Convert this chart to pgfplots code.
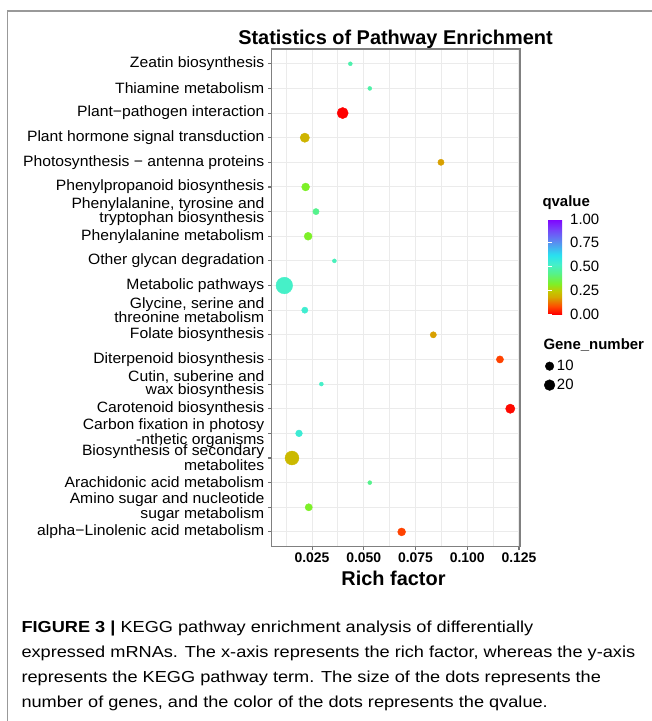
\documentclass[border=0pt]{standalone}
\usepackage{fontspec}
\setmainfont{Liberation Sans}
\newfontfamily\capfont[FakeStretch=1.14]{Liberation Sans}
\newfontfamily\lblfont[FakeStretch=1.05]{Liberation Sans}
\usepackage{pgfplots}
\pgfplotsset{compat=1.18}
\usepackage{pgfplotstable}
\pgfplotsset{dotlegend/.style={legend image code/.code={\draw[##1] plot coordinates {(0bp,0bp)};}}}

% y: category position (1 = bottom), rich: rich factor, n: gene number, q: qvalue
\pgfplotstableread{
y rich n q
20 0.0435 3 0.48
19 0.0529 3 0.47
18 0.0398 23 0.00
17 0.0215 14 0.20
16 0.0873 5 0.17
15 0.0219 9 0.32
14 0.0269 5 0.43
13 0.0231 9 0.32
12 0.0358 3 0.50
11 0.0116 65 0.52
10 0.0215 5 0.54
9 0.0836 5 0.17
8 0.1158 7 0.07
7 0.0295 3 0.52
6 0.1208 14 0.01
5 0.0187 6 0.55
4 0.0153 41 0.21
3 0.0529 3 0.43
2 0.0234 7 0.32
1 0.0683 9 0.07
}\pathdata

\begin{document}
\begin{tikzpicture}[x=1bp,y=1bp]
\useasboundingbox (0,0) rectangle (652,-721);
\coordinate (axpos) at (271.7,-546.7);
\draw[black!40, line width=1.6bp] (7.5,-721) -- (7.5,-11) -- (652,-11);
\node[anchor=base, font=\bfseries\fontsize{20}{20}\selectfont] at (395.5,-44.5) {Statistics of Pathway Enrichment};
\node[anchor=base, font=\bfseries\fontsize{20}{20}\selectfont] at (393.5,-585) {Rich factor};
\node[anchor=base west, font=\bfseries\fontsize{15}{15}\selectfont] at (539,-206.5) {qvalue};
\node[anchor=base west, font=\bfseries\fontsize{15}{15}\selectfont] at (540,-349.5) {Gene\_number};
\begin{axis}[
  at={(axpos)}, anchor=south west,
  scale only axis, width=248.3bp, height=497.7bp,
  xmin=0.0055, xmax=0.1255, ymin=0.4, ymax=20.6,
  scaled x ticks=false,
  xtick={0.025,0.05,0.075,0.1,0.125},
  minor xtick={0.0125,0.0375,0.0625,0.0875,0.1125},
  ytick={1,...,20},
  yticklabels={
    {alpha−Linolenic acid metabolism},
    {Amino sugar and nucleotide\\sugar metabolism},
    {Arachidonic acid metabolism},
    {Biosynthesis of secondary\\metabolites},
    {Carbon fixation in photosy\\-nthetic organisms},
    {Carotenoid biosynthesis},
    {Cutin, suberine and\\wax biosynthesis},
    {Diterpenoid biosynthesis},
    {Folate biosynthesis},
    {Glycine, serine and\\threonine metabolism},
    {Metabolic pathways},
    {Other glycan degradation},
    {Phenylalanine metabolism},
    {Phenylalanine, tyrosine and\\tryptophan biosynthesis},
    {Phenylpropanoid biosynthesis},
    {Photosynthesis − antenna proteins},
    {Plant hormone signal transduction},
    {Plant−pathogen interaction},
    {Thiamine metabolism},
    {Zeatin biosynthesis}},
  grid=both,
  major grid style={line width=1.0bp, black!8},
  minor grid style={line width=0.9bp, black!8},
  axis line style={black!50, line width=1.1bp},
  tick align=outside, xtick pos=bottom, ytick pos=left,
  major tick length=3.5bp, minor tick length=0pt,
  tick style={black!55, line width=1.1bp},
  /pgf/number format/assume math mode=true,
  yticklabel style={font=\lblfont\fontsize{15}{13.6}\selectfont, align=right, inner sep=1.2bp, xshift=-2.5bp},
  xticklabel style={font=\bfseries\fontsize{14}{14}\selectfont, inner sep=2bp,
    /pgf/number format/fixed, /pgf/number format/fixed zerofill, /pgf/number format/precision=3},
  colormap={qmap}{
    rgb255(0pt)=(255,0,0); rgb255(8pt)=(255,75,0); rgb255(18pt)=(212,170,0);
    rgb255(24pt)=(195,200,0); rgb255(32pt)=(125,240,40); rgb255(43pt)=(85,242,140);
    rgb255(52pt)=(70,240,200); rgb255(62pt)=(40,225,240); rgb255(76pt)=(90,140,240);
    rgb255(90pt)=(120,60,250); rgb255(100pt)=(128,0,255)},
  point meta min=0, point meta max=1,
  colorbar,
  colorbar style={
    at={(parent axis.north east)}, anchor=north west,
    xshift=19.5bp, yshift=-170bp,
    width=20bp, height=95bp,
    ytick={0,0.25,0.5,0.75,1},
    /pgf/number format/assume math mode=true,
    yticklabel style={font=\fontsize{15}{15}\selectfont, inner sep=2bp,
      /pgf/number format/fixed, /pgf/number format/fixed zerofill, /pgf/number format/precision=2},
    ytick pos=both,
    yticklabel pos=right,
    axis line style={draw=none},
    tick style={white, line width=0.8bp},
    major tick length=4bp,
    tick align=inside,
  },
  legend style={at={(1.0967,0.3791)}, anchor=north west, draw=none, fill=none,
    font=\fontsize{15}{15}\selectfont, inner sep=0pt, row sep=3bp},
  legend cell align=left,
]
\addplot[scatter, only marks, mark=*, forget plot,
  scatter src=explicit,
  visualization depends on={\thisrow{n} \as \genes},
  scatter/use mapped color={draw=mapped color, fill=mapped color},
  scatter/@pre marker code/.append style={/tikz/mark size={(4+12.7*sqrt((\genes-3)/62))/2}},
] table[x=rich, y=y, meta=q] {\pathdata};
\addlegendimage{only marks, mark=*, black, mark size=4.3, dotlegend}
\addlegendentry{10}
\addlegendimage{only marks, mark=*, black, mark size=5.4, dotlegend}
\addlegendentry{20}
\end{axis}
\node[anchor=base west, font=\capfont\fontsize{16}{16}\selectfont] at (18,-632.7) {\textbf{FIGURE 3 |} KEGG pathway enrichment analysis of differentially};
\node[anchor=base west, font=\capfont\fontsize{16}{16}\selectfont] at (18,-657.5) {expressed mRNAs. The x-axis represents the rich factor, whereas the y-axis};
\node[anchor=base west, font=\capfont\fontsize{16}{16}\selectfont] at (18,-682.5) {represents the KEGG pathway term. The size of the dots represents the};
\node[anchor=base west, font=\capfont\fontsize{16}{16}\selectfont] at (18,-707.5) {number of genes, and the color of the dots represents the qvalue.};
\end{tikzpicture}
\end{document}
